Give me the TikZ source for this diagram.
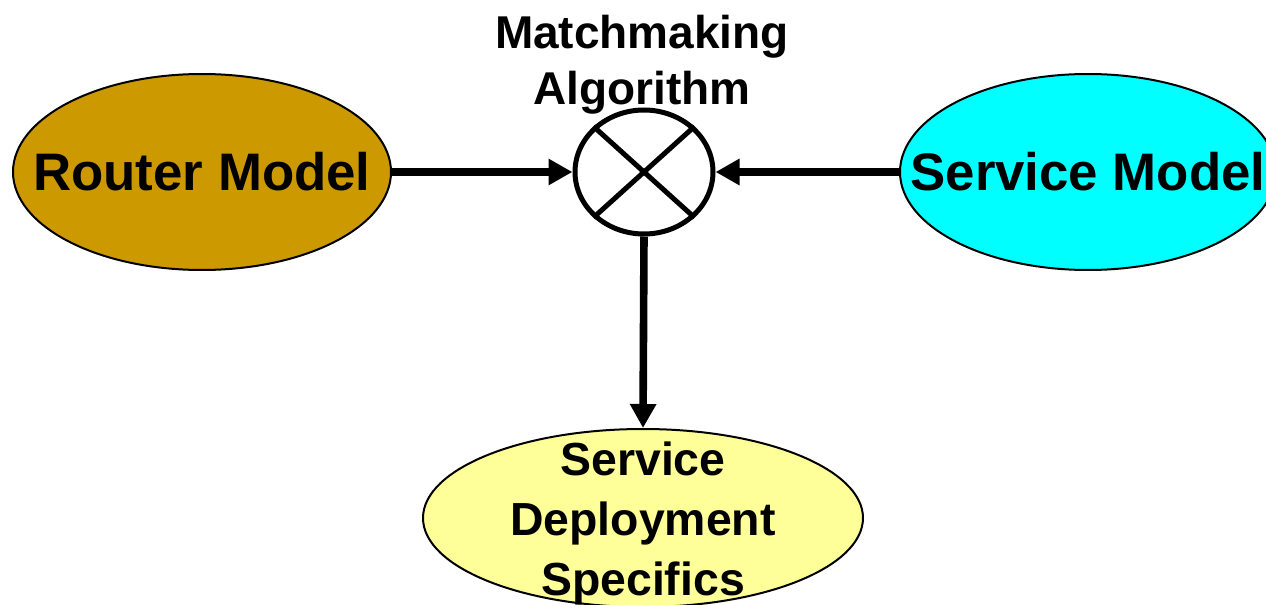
\documentclass[tikz,border=0pt]{standalone}
\usepackage{fontspec}
\setmainfont{Liberation Sans}
\usetikzlibrary{arrows.meta,shapes.geometric}
\definecolor{routerfill}{HTML}{CC9900}
\definecolor{servicefill}{HTML}{00FFFF}
\definecolor{deployfill}{HTML}{FFFF99}
\tikzset{
  model/.style={ellipse, draw=black, line width=1pt, inner sep=0pt},
  modeltext/.style={inner sep=0pt, align=center,
    font=\fontsize{26.4pt}{30pt}\selectfont\bfseries},
  matcher/.style={ellipse, draw=black, fill=white, line width=2.5pt, inner sep=0pt,
    minimum width=69pt, minimum height=62pt},
  flow/.style={line width=3.8pt, -{Triangle[length=12pt,width=12.5pt]}},
  caption/.style={inner sep=0pt, align=center,
    font=\fontsize{23pt}{28pt}\selectfont\bfseries}
}
\begin{document}
\begin{tikzpicture}[x=0.5pt,y=-0.5pt]
  \useasboundingbox (0,0) rectangle (1266,605);

  % the three models
  \node[model, fill=routerfill, minimum width=189pt, minimum height=98pt,
    label={[modeltext]center:Router Model}] (router) at (202,172) {};
  \node[model, fill=servicefill, minimum width=188pt, minimum height=98pt,
    label={[modeltext]center:Service Model}] (service) at (1088,172) {};
  \node[model, fill=deployfill, minimum width=220pt, minimum height=89pt,
    label={[modeltext, text depth=0pt, yshift=-0.5pt,
      font=\fontsize{23.2pt}{30pt}\selectfont\bfseries]center:Service\\Deployment\\Specifics}]
    (deploy) at (643,518) {};

  % matchmaking operator
  \node[matcher] (mm) at (644,172) {};
  \draw[line width=2.5pt] (mm.north west) -- (mm.south east);
  \draw[line width=2.5pt] (mm.north east) -- (mm.south west);
  \node[caption, anchor=south] (mmlabel) at (642,115) {Matchmaking\\Algorithm};

  % flows
  \draw[flow] (router.east) -- (mm.west);
  \draw[flow] (service.west) -- (mm.east);
  \draw[flow] (mm.south) -- (deploy.north);
\end{tikzpicture}
\end{document}
